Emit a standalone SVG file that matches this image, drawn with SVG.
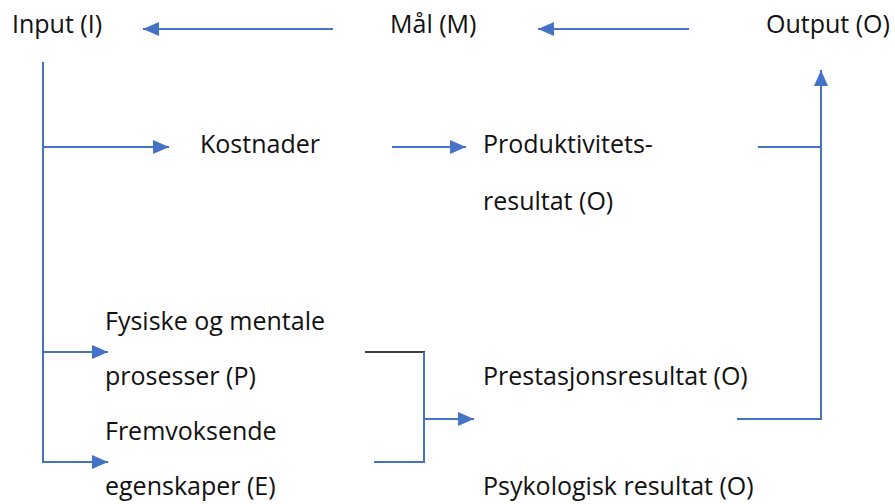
<svg xmlns="http://www.w3.org/2000/svg" width="895" height="504" viewBox="0 0 895 504">
<style>
text{font-family:"Open Sans","Noto Sans",sans-serif;font-size:25px;fill:#111}
.c{fill:none;stroke:#4472C4;stroke-width:2}
.k{fill:none;stroke:#000;stroke-width:1.5}
</style>
<defs>
<marker id="a" markerWidth="16" markerHeight="14" refX="16" refY="7" orient="auto" markerUnits="userSpaceOnUse">
<path d="M0,0 L16,7 L0,14 Z" fill="#4472C4"/>
</marker>
</defs>
<rect width="895" height="504" fill="#fff"/>
<g id="connectors">
<line class="c" x1="333" y1="29" x2="143" y2="29" marker-end="url(#a)"/>
<line class="c" x1="689" y1="29" x2="538" y2="29" marker-end="url(#a)"/>
<line class="c" x1="43" y1="62" x2="43" y2="462"/>
<line class="c" x1="42" y1="147" x2="169" y2="147" marker-end="url(#a)"/>
<line class="c" x1="392" y1="147" x2="466" y2="147" marker-end="url(#a)"/>
<line class="c" x1="42" y1="352" x2="108" y2="352" marker-end="url(#a)"/>
<line class="c" x1="42" y1="462" x2="108" y2="462" marker-end="url(#a)"/>
<line class="k" x1="365" y1="352" x2="425" y2="352"/>
<polyline class="c" points="424,352 424,462 374,462"/>
<line class="c" x1="424" y1="419" x2="474" y2="419" marker-end="url(#a)"/>
<line class="c" x1="758" y1="147" x2="821" y2="147"/>
<polyline class="c" points="737,419 821,419 821,70" marker-end="url(#a)"/>
</g>
<g id="input"><text x="12" y="33">Input (I)</text></g>
<g id="maal"><text x="390" y="33">Mål (M)</text></g>
<g id="output"><text x="766" y="33">Output (O)</text></g>
<g id="kostnader"><text x="200" y="153">Kostnader</text></g>
<g id="produktivitet"><text x="483" y="153">Produktivitets-</text><text x="483" y="210">resultat (O)</text></g>
<g id="prosesser"><text x="105" y="330">Fysiske og mentale</text><text x="105" y="385">prosesser (P)</text></g>
<g id="egenskaper"><text x="105" y="440">Fremvoksende</text><text x="105" y="495">egenskaper (E)</text></g>
<g id="prestasjon"><text x="483" y="385">Prestasjonsresultat (O)</text></g>
<g id="psykologisk"><text x="483" y="495">Psykologisk resultat (O)</text></g>
</svg>
